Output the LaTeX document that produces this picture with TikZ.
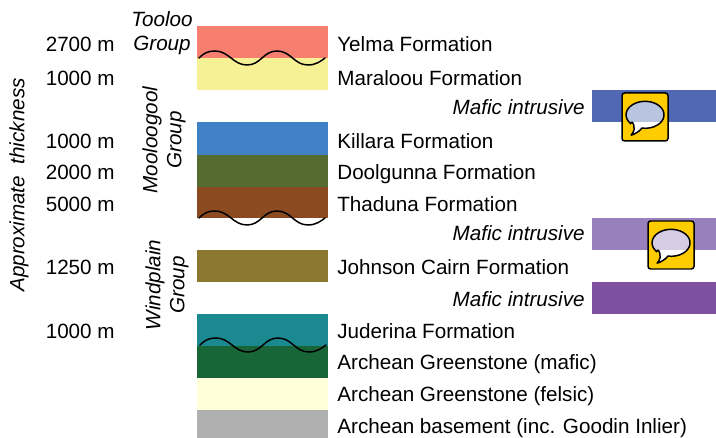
\documentclass[tikz,border=0pt]{standalone}
\usepackage{fontspec}
\setmainfont{Liberation Sans}
\usetikzlibrary{positioning}
\definecolor{yelmac}{HTML}{F67F6F}
\definecolor{maralooc}{HTML}{F7F195}
\definecolor{killarac}{HTML}{4080C4}
\definecolor{doolc}{HTML}{556B30}
\definecolor{thadunac}{HTML}{8B4A20}
\definecolor{johnsonc}{HTML}{8B7730}
\definecolor{juderinac}{HTML}{1A8A90}
\definecolor{maficc}{HTML}{186538}
\definecolor{felsicc}{HTML}{FFFFD9}
\definecolor{basementc}{HTML}{B0B0B0}
\definecolor{introne}{HTML}{5068B4}
\definecolor{introtwo}{HTML}{9880BC}
\definecolor{introthree}{HTML}{8050A0}
\definecolor{iconc}{HTML}{FFCC00}
\definecolor{tintone}{HTML}{B8C4E0}
\definecolor{tinttwo}{HTML}{D6CCE4}
\tikzset{
  lab/.style={anchor=west,inner sep=0pt,text height=8.1pt,text depth=0pt,font=\fontsize{11.75}{13.6}\selectfont},
  thick lab/.style={anchor=east,inner sep=0pt,text height=8.1pt,text depth=0pt,font=\fontsize{11.75}{13.6}\selectfont},
  intr lab/.style={anchor=east,inner sep=0pt,text height=8.1pt,text depth=0pt,font=\fontsize{11.75}{13.6}\selectfont\itshape},
  grp/.style={inner sep=0pt,align=center,font=\fontsize{11.75}{13.6}\selectfont\itshape},
  uncon/.style={black,line width=0.85pt,line cap=round},
}
% wavy contact, starting at its left end
\newcommand{\wavy}[2]{
  \begin{scope}[shift={(#1,#2)}]
  \draw[uncon] (0,0) .. controls (5,-5) and (9,-7) .. (16,-7)
    .. controls (30,-7) and (34,7) .. (48,7)
    .. controls (62,7) and (64,-7) .. (78,-7)
    .. controls (92,-7) and (95,7) .. (109,7)
    .. controls (117,7) and (122,3) .. (126,0);
  \end{scope}
}
% speech bubble icon: left, top, tint, lower edge of the band behind it
\newcommand{\speechicon}[4]{
  \draw[black,fill=iconc,line width=0.85pt,rounded corners=1.5pt] (#1,#2) rectangle +(46,48);
  \def\bubble{(#1,#2) ++(8.5,30.5) arc[start angle=140,end angle=460,x radius=19,y radius=13.5]
    .. controls +(-2,4) and +(-6,5) .. ++(-9,5) .. controls +(3,-3) and +(3,-5) .. cycle}
  \fill[white] \bubble;
  \begin{scope}
    \clip (#1,#2) rectangle (#1+46,#4);
    \fill[#3] \bubble;
  \end{scope}
  \draw[black,line width=0.85pt] \bubble;
}
\begin{document}
\begin{tikzpicture}[x=0.02cm,y=-0.02cm]
\useasboundingbox (0,0) rectangle (716,438);
% stratigraphic column
\foreach \col/\top/\bot in {yelmac/26/58,maralooc/58/90,killarac/122/155,
    doolc/155/187,thadunac/187/218,johnsonc/250/282,juderinac/314/346,
    maficc/346/378,felsicc/378/410,basementc/410/438}{
  \fill[\col] (197,\top) rectangle (328,\bot);
}
% intrusions
\foreach \col/\top/\bot in {introne/90/122,introtwo/218/250,introthree/282/314}{
  \fill[\col] (592,\top) rectangle (716,\bot);
}
% contacts
\wavy{199}{58}
\wavy{199}{218}
\wavy{200}{345}
% formation names
\foreach \y/\txt in {44/Yelma Formation,78/Maraloou Formation,141/Killara Formation,172/Doolgunna Formation,
    204/Thaduna Formation,267/Johnson Cairn Formation,331/Juderina Formation,362/Archean Greenstone (mafic),
    394/Archean Greenstone (felsic),426/Archean basement (inc. Goodin Inlier)}{
  \node[lab] at (337,\y) {\txt};
}
% thickness
\foreach \y/\txt in {44/2700,78/1000,141/1000,172/2000,204/5000,267/1250,331/1000}{
  \node[thick lab] at (115,\y) {\txt\ m};
}
\foreach \y in {107,233,299}{
  \node[intr lab] at (585,\y) {Mafic intrusive};
}
% groups
\node[grp] (tooloo) at (162,33) {Tooloo\\Group};
\node[grp,rotate=90] (mooloogool) at (164,140) {Mooloogool\\Group};
\node[grp,rotate=90] (windplain) at (167,285) {Windplain\\Group};
\node[grp,rotate=90] (thickness) at (19,185) {Approximate~~thickness};
% icons
\speechicon{622}{93}{tintone}{122}
\speechicon{648}{221}{tinttwo}{250}
\end{tikzpicture}
\end{document}
